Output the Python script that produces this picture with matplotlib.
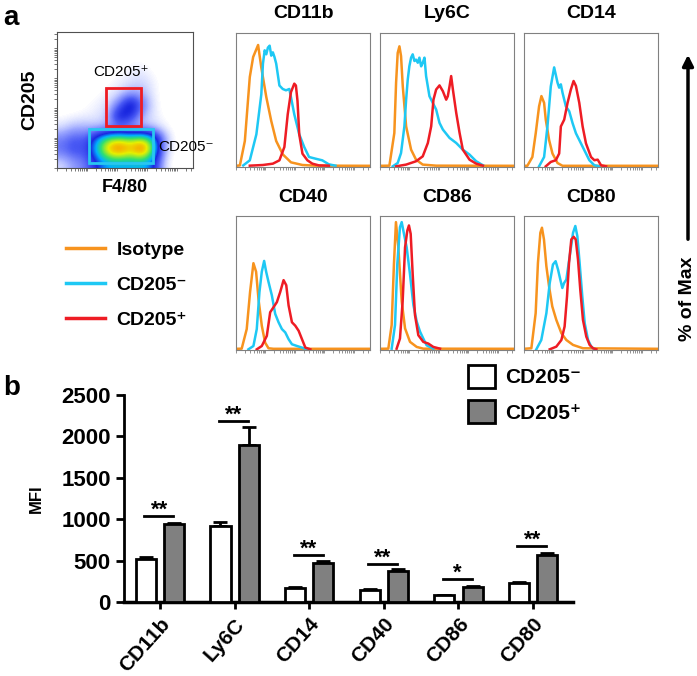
import numpy as np
import matplotlib.pyplot as plt
from matplotlib.colors import LinearSegmentedColormap
from matplotlib.lines import Line2D
from matplotlib.patches import Patch, Rectangle, FancyArrowPatch

plt.rcParams['font.family'] = ['Liberation Sans', 'DejaVu Sans']
plt.rcParams['font.weight'] = 'bold'

# ---------------- data ----------------
# flow plot: coarse density grid (rows top -> bottom, F4/80 left -> right)
flow_density = [
    [0, 0, 0, 0, 0, 0, 0, 0, 0, 0, 0, 0],
    [0, 0, 0, 0, 0, 0, 0, 0, 0, 0, 0, 0],
    [0, 0, 0, 0, 0, 0, 0.01, 0.01, 0, 0, 0, 0],
    [0, 0, 0, 0, 0, 0.01, 0.03, 0.04, 0.01, 0, 0, 0],
    [0, 0, 0, 0, 0.01, 0.03, 0.05, 0.07, 0.03, 0, 0, 0],
    [0, 0, 0, 0.01, 0.03, 0.06, 0.14, 0.12, 0.03, 0, 0, 0],
    [0, 0, 0.01, 0.03, 0.05, 0.22, 0.55, 0.22, 0.04, 0, 0, 0],
    [0.01, 0.02, 0.03, 0.04, 0.08, 0.5, 0.35, 0.1, 0.04, 0.01, 0, 0],
    [0.06, 0.12, 0.12, 0.1, 0.12, 0.12, 0.1, 0.1, 0.08, 0.03, 0, 0],
    [0.2, 0.28, 0.25, 0.5, 0.72, 0.78, 0.72, 0.8, 0.6, 0.12, 0, 0],
    [0.22, 0.3, 0.27, 0.55, 0.85, 0.95, 0.82, 0.98, 0.66, 0.08, 0, 0],
    [0.06, 0.15, 0.2, 0.38, 0.5, 0.5, 0.5, 0.52, 0.42, 0.04, 0, 0],
]
gate_pos = (0.36, 0.31, 0.62, 0.59)   # x0, y0, x1, y1
gate_neg = (0.237, 0.037, 0.707, 0.288)

# histograms: (fluorescence, % of max) points
hist_titles = ['CD11b', 'Ly6C', 'CD14', 'CD40', 'CD86', 'CD80']

cd11b_iso = [(0, 0.4), (2.9, 0.7), (6.6, 19), (10.3, 67), (12.8, 82), (16.5, 91), (18.9, 74), (22.6, 52),
             (26.3, 34), (30, 19), (34.9, 9), (41, 3), (49.6, 1), (59.5, 0.5), (100, 0.4)]
cd11b_neg = [(5.4, 0.7), (10.3, 4.5), (15.2, 24), (18.9, 54), (20.1, 77), (21.4, 87), (22.6, 84), (23.8, 89),
             (25.1, 90.5), (26.3, 83), (27.5, 85.5), (28.7, 82), (30, 77), (32.4, 60.6), (34.9, 58), (37.3, 57),
             (39.8, 58), (41, 52), (43.5, 39), (47.2, 24), (50.9, 14.5), (54.5, 7), (59.5, 5.7), (64.4, 4.5),
             (69.3, 1.5), (74.2, 0.5)]
cd11b_pos = [(10.3, 0.5), (20.1, 1), (27.5, 2), (32.4, 4.5), (36.1, 14.5), (38.6, 39), (41, 55.6), (43.5, 62),
             (44.7, 60.6), (45.9, 49), (47.2, 24), (49.6, 9.5), (53.3, 4.5), (57, 2), (61.9, 0.7), (69.3, 0.5)]

ly6c_iso = [(0, 0.4), (7, 0.5), (10.7, 25), (12, 62.7), (13.2, 85), (14.5, 90), (15.7, 82.7), (17, 60),
            (19.5, 30), (23.2, 12.5), (26.9, 5), (31.9, 1.3), (41.9, 0.5), (100, 0.4)]
ly6c_neg = [(9.5, 0), (13.2, 2.5), (15.7, 10), (18.2, 30), (19.5, 50), (20.7, 65), (21.9, 75), (23.2, 81.5),
            (24.4, 84), (25.7, 79), (26.9, 80), (28.2, 77.7), (29.4, 81.5), (30.7, 75), (31.9, 77.7), (33.2, 81.5),
            (34.4, 67.7), (36.9, 52.6), (39.4, 47.6), (41.9, 42.6), (44.4, 32.6), (46.9, 27.6), (51.9, 21.3),
            (56.9, 17.5), (61.8, 12.5), (66.8, 8.8), (71.8, 3.8), (76.8, 0.8)]
ly6c_pos = [(12, 0), (19.5, 1.3), (26.9, 3.8), (31.9, 7.5), (35.7, 17.5), (38.2, 30), (39.9, 50), (41.9, 57.6),
            (44.4, 60.7), (46.9, 56.4), (49.4, 50), (50.6, 52.6), (51.9, 60), (53.1, 67.7), (54.4, 57.6),
            (56.9, 40), (59.4, 25), (61.8, 12.5), (66.8, 5), (71.8, 2), (76.8, 0.5)]

cd14_iso = [(0, 0.4), (2.5, 0.4), (6.25, 7), (8.75, 24.8), (11.25, 45), (13, 52.7), (15, 47.6), (16.25, 35),
            (18.75, 19.7), (21.25, 9.6), (25, 2.5), (28.75, 0.4), (100, 0.4)]
cd14_neg = [(11.25, 0), (15, 7), (17.5, 29.9), (20, 60), (22.5, 74.2), (25, 62.8), (26.25, 59), (27.5, 61.5),
            (28.75, 55.2), (31.25, 45), (33.75, 41.3), (36.25, 32.4), (38.75, 24.8), (43.75, 14.7), (48.75, 4.6),
            (52.5, 0.8), (56.25, 0)]
cd14_pos = [(16.25, 0), (20, 3.3), (23.75, 4.6), (26.25, 9.6), (27.5, 29.9), (30, 35), (32.5, 47.6), (35, 57.7),
            (37, 64), (38.75, 60.3), (41.25, 47.6), (43.75, 29.9), (46.25, 17.2), (50, 7), (52.5, 4.6), (55, 5),
            (57.5, 0.8), (61.25, 0)]

cd40_iso = [(0, 0.4), (4.25, 0.5), (8, 15.2), (10.5, 43), (13, 64.6), (15, 58.2), (16.75, 38), (19.25, 17.7),
            (21.75, 5), (24.25, 0.8), (28, 0.4), (100, 0.4)]
cd40_neg = [(9.25, 0), (13, 2.5), (15.5, 15.2), (17.5, 43), (19.25, 58.2), (21, 66.3), (22.5, 58.2), (24.25, 50.6),
            (26.75, 40.5), (29.25, 26.6), (31.75, 20.3), (34.25, 15.2), (36.75, 12.7), (39.25, 7.6), (41.75, 3.8),
            (45.5, 2.5), (49.25, 1.3), (53, 0)]
cd40_pos = [(15.5, 0), (19.25, 2.5), (23, 10.1), (25.5, 27.8), (28, 31.6), (30.5, 35.4), (33, 43), (35.5, 51.9),
            (37.5, 48.1), (39.25, 32.9), (41.75, 20.3), (44.25, 17.7), (46.75, 13.9), (49.25, 7.6), (51.75, 1.3),
            (55.5, 0)]

cd86_iso = [(0, 0.4), (6.2, 0.5), (8.7, 18.2), (10.4, 63.8), (11.9, 95.4), (13.7, 76.5), (16.2, 36), (18.7, 15.7),
            (22.4, 5.6), (27.4, 1.8), (32.3, 0.5), (100, 0.4)]
cd86_neg = [(8.7, 0.5), (11.2, 18.2), (12.9, 63.8), (14.9, 91.6), (16.2, 95.4), (17.4, 89.1), (19.9, 76.5),
            (22.4, 56.2), (24.9, 33.4), (27.4, 20.8), (29.9, 13.2), (32.3, 8.1), (34.8, 3), (39.8, 0.5)]
cd86_pos = [(12.4, 0.5), (14.9, 8.1), (16.9, 36), (18.7, 76.5), (20.4, 89.1), (21.6, 92.9), (22.9, 86.6),
            (24.4, 56.2), (26.1, 25.8), (28.6, 10.6), (32.3, 5.6), (36.1, 4.3), (39.8, 1.8), (44.8, 0.5)]

cd80_iso = [(0, 0.4), (5.5, 0.8), (8.7, 27.1), (10.4, 64.8), (12.2, 87.4), (13.4, 91.2), (14.9, 82.4), (16.7, 62.3),
            (18.7, 47.2), (21.1, 32.2), (24.1, 22.1), (27.9, 12.1), (31.6, 7), (36.6, 3.3), (44, 0.8), (100, 0.4)]
cd80_neg = [(9.2, 0), (12.9, 7), (16.7, 27.1), (19.2, 49.7), (21.6, 63.6), (23.6, 66.1), (25.4, 59.8), (27.1, 52.3),
            (28.6, 46), (29.9, 49.7), (31.6, 52.3), (34.1, 69.8), (36.6, 87.4), (38.3, 92.5), (39.8, 84.9),
            (41.5, 64.8), (43.5, 39.7), (45.3, 19.6), (47.8, 7), (50.2, 2), (52.7, 0)]
cd80_pos = [(19.2, 0), (24.1, 2), (27.9, 7), (30.3, 17.1), (32.1, 39.7), (33.6, 64.8), (35.3, 82.4), (37.1, 84.4),
            (38.6, 82.4), (40.3, 67.3), (42, 44.7), (44, 22.1), (46.5, 9.5), (49, 3.3), (51.5, 0.8), (54, 0)]

hist_curves = [
    (cd11b_iso, cd11b_neg, cd11b_pos),
    (ly6c_iso, ly6c_neg, ly6c_pos),
    (cd14_iso, cd14_neg, cd14_pos),
    (cd40_iso, cd40_neg, cd40_pos),
    (cd86_iso, cd86_neg, cd86_pos),
    (cd80_iso, cd80_neg, cd80_pos),
]

# bar chart (MFI)
markers = ['CD11b', 'Ly6C', 'CD14', 'CD40', 'CD86', 'CD80']
mfi_neg = [525, 920, 169, 145, 85, 233]
sem_neg = [20, 45, 12, 15, 5, 10]
mfi_pos = [942, 1896, 471, 378, 185, 564]
sem_pos = [18, 220, 24, 21, 10, 31]
sig_y = [1039, 2186, 568, 459, 278, 680]
sig_txt = ['**', '**', '**', '**', '*', '**']

c_iso = '#f7931e'
c_neg = '#1ec8f4'
c_pos = '#ee1c24'

W, H = 697, 676
fig = plt.figure(figsize=(W / 100, H / 100), dpi=100)


def px_box(x0, y0, x1, y1):
    return [x0 / W, 1 - y1 / H, (x1 - x0) / W, (y1 - y0) / H]


def fx(x):
    return x / W


def fy(y):
    return 1 - y / H


# log-like tick positions for cytometry axes
dec = 22.0
log_ticks = [d * dec + np.log10(m) * dec for d in range(5) for m in range(1, 10) if d * dec + np.log10(m) * dec <= 100]

# ---------------- panel a: flow plot ----------------
fig.text(fx(3), fy(18), 'a', fontsize=20, fontweight='bold', va='center')

axf = fig.add_axes(px_box(57, 32, 193, 168))
cmap = LinearSegmentedColormap.from_list('flow', [
    (0, '#ffffff'), (0.03, '#e4e8ff'), (0.12, '#9aa5ff'), (0.25, '#4a5af5'), (0.38, '#1a28e0'),
    (0.5, '#00b0ff'), (0.62, '#30e070'), (0.76, '#e6f000'), (0.88, '#ff8c00'), (1, '#ff2a00')])
cmap.set_under('white')
axf.imshow(np.array(flow_density), cmap=cmap, vmin=0.012, vmax=1, extent=(0, 1, 0, 1),
           interpolation='bicubic', aspect='auto', origin='upper')
axf.add_patch(Rectangle((gate_pos[0], gate_pos[1]), gate_pos[2] - gate_pos[0], gate_pos[3] - gate_pos[1],
                        fill=False, ec='#ee1c24', lw=2))
axf.add_patch(Rectangle((gate_neg[0], gate_neg[1]), gate_neg[2] - gate_neg[0], gate_neg[3] - gate_neg[1],
                        fill=False, ec='#29c6f0', lw=2))
axf.set_xlim(0, 1)
axf.set_ylim(0, 1)
axf.set_xticks([t / 100 for t in log_ticks])
axf.set_yticks([t / 100 for t in log_ticks])
axf.set_xticklabels([])
axf.set_yticklabels([])
axf.tick_params(length=2, width=0.6, color='#606060')
for s in axf.spines.values():
    s.set_color('#505050')
    s.set_linewidth(0.8)
fig.text(fx(30), fy(100), 'CD205', rotation=90, fontsize=14, fontweight='bold', ha='center', va='center')
fig.text(fx(125), fy(188), 'F4/80', fontsize=13, fontweight='bold', ha='center', va='center')
fig.text(fx(121), fy(72), 'CD205⁺', fontsize=11, fontweight='normal', ha='center', va='center')
fig.text(fx(158), fy(147), 'CD205⁻', fontsize=11, fontweight='normal', ha='left', va='center')

# legend for histograms
leg_handles = [Line2D([], [], color=c_iso, lw=2.5), Line2D([], [], color=c_neg, lw=2.5),
               Line2D([], [], color=c_pos, lw=2.5)]
fig.legend(leg_handles, ['Isotype', 'CD205⁻', 'CD205⁺'], loc='upper left',
           bbox_to_anchor=(fx(66), fy(241)), frameon=False, handlelength=2.0,
           handletextpad=0.6, labelspacing=0.9, borderpad=0, borderaxespad=0,
           prop={'weight': 'bold', 'size': 14})

# ---------------- panel a: histograms ----------------
col_x = [236, 380, 524]
row_y = [33, 216]
for i, (title, curves) in enumerate(zip(hist_titles, hist_curves)):
    r, c = divmod(i, 3)
    x0, y0 = col_x[c], row_y[r]
    ax = fig.add_axes(px_box(x0, y0, x0 + 134, y0 + 134))
    for pts, col in zip(curves, (c_iso, c_neg, c_pos)):
        xs, ys = zip(*pts)
        ax.plot(xs, ys, color=col, lw=1.8, solid_joinstyle='round')
    ax.set_xlim(0, 100)
    ax.set_ylim(-0.5, 100)
    ax.set_xticks(log_ticks)
    ax.set_xticklabels([])
    ax.set_yticks([])
    ax.tick_params(axis='x', length=2, width=0.6, color='#808080')
    for s in ax.spines.values():
        s.set_color('#808080')
        s.set_linewidth(0.8)
    fig.text(fx(x0 + 67), fy(y0 - 19), title, fontsize=14, fontweight='bold', ha='center', va='center')

# % of Max arrow
fig.add_artist(FancyArrowPatch((fx(688), fy(242)), (fx(688), fy(52)), transform=fig.transFigure,
                               arrowstyle='-|>', mutation_scale=16, lw=2.5, color='black'))
fig.text(fx(687), fy(299), '% of Max', rotation=90, fontsize=14, fontweight='bold', ha='center', va='center')

# ---------------- panel b: bar chart ----------------
fig.text(fx(3), fy(388), 'b', fontsize=20, fontweight='bold', va='center')
axb = fig.add_axes(px_box(124, 395, 573, 602))
x = np.arange(len(markers))
off, bw = 0.19, 0.27
axb.bar(x - off, mfi_neg, bw, color='white', edgecolor='black', lw=2, zorder=3)
axb.bar(x + off, mfi_pos, bw, color='#808080', edgecolor='black', lw=2, zorder=3)
axb.errorbar(x - off, mfi_neg, yerr=[np.zeros(len(x)), sem_neg], fmt='none', ecolor='black',
             elinewidth=2, capsize=5, capthick=2, zorder=2)
axb.errorbar(x + off, mfi_pos, yerr=[np.zeros(len(x)), sem_pos], fmt='none', ecolor='black',
             elinewidth=2, capsize=5, capthick=2, zorder=2)
for xi, yv, t in zip(x, sig_y, sig_txt):
    axb.plot([xi - 0.21, xi + 0.18], [yv, yv], color='black', lw=2)
    axb.text(xi - 0.01, yv - 60, t, ha='center', va='bottom', fontsize=16, fontweight='bold')
axb.set_xlim(-0.483, 5.536)
axb.set_ylim(0, 2500)
axb.set_yticks([0, 500, 1000, 1500, 2000, 2500])
axb.set_xticks(x)
axb.set_xticklabels(markers, rotation=48, ha='right', rotation_mode='anchor', fontsize=15, fontweight='bold')
axb.tick_params(axis='y', labelsize=16, width=2, length=6)
axb.tick_params(axis='x', width=2, length=5, pad=4)
for lab in axb.get_yticklabels():
    lab.set_fontweight('bold')
axb.spines['top'].set_visible(False)
axb.spines['right'].set_visible(False)
axb.spines['left'].set_linewidth(2)
axb.spines['bottom'].set_linewidth(2.5)
axb.set_ylabel('MFI', fontsize=12, fontweight='bold')
axb.yaxis.set_label_coords(-80 / 449, 0.5)

bar_handles = [Patch(facecolor='white', edgecolor='black', lw=2), Patch(facecolor='#808080', edgecolor='black', lw=2)]
axb.legend(bar_handles, ['CD205⁻', 'CD205⁺'], loc='upper left', bbox_to_anchor=(fx(468), fy(365)),
           bbox_transform=fig.transFigure, frameon=False, handlelength=1.3, handleheight=1.3,
           handletextpad=0.5, labelspacing=0.6, borderpad=0, borderaxespad=0,
           prop={'weight': 'bold', 'size': 15})

fig.savefig('out.png', dpi=100)
